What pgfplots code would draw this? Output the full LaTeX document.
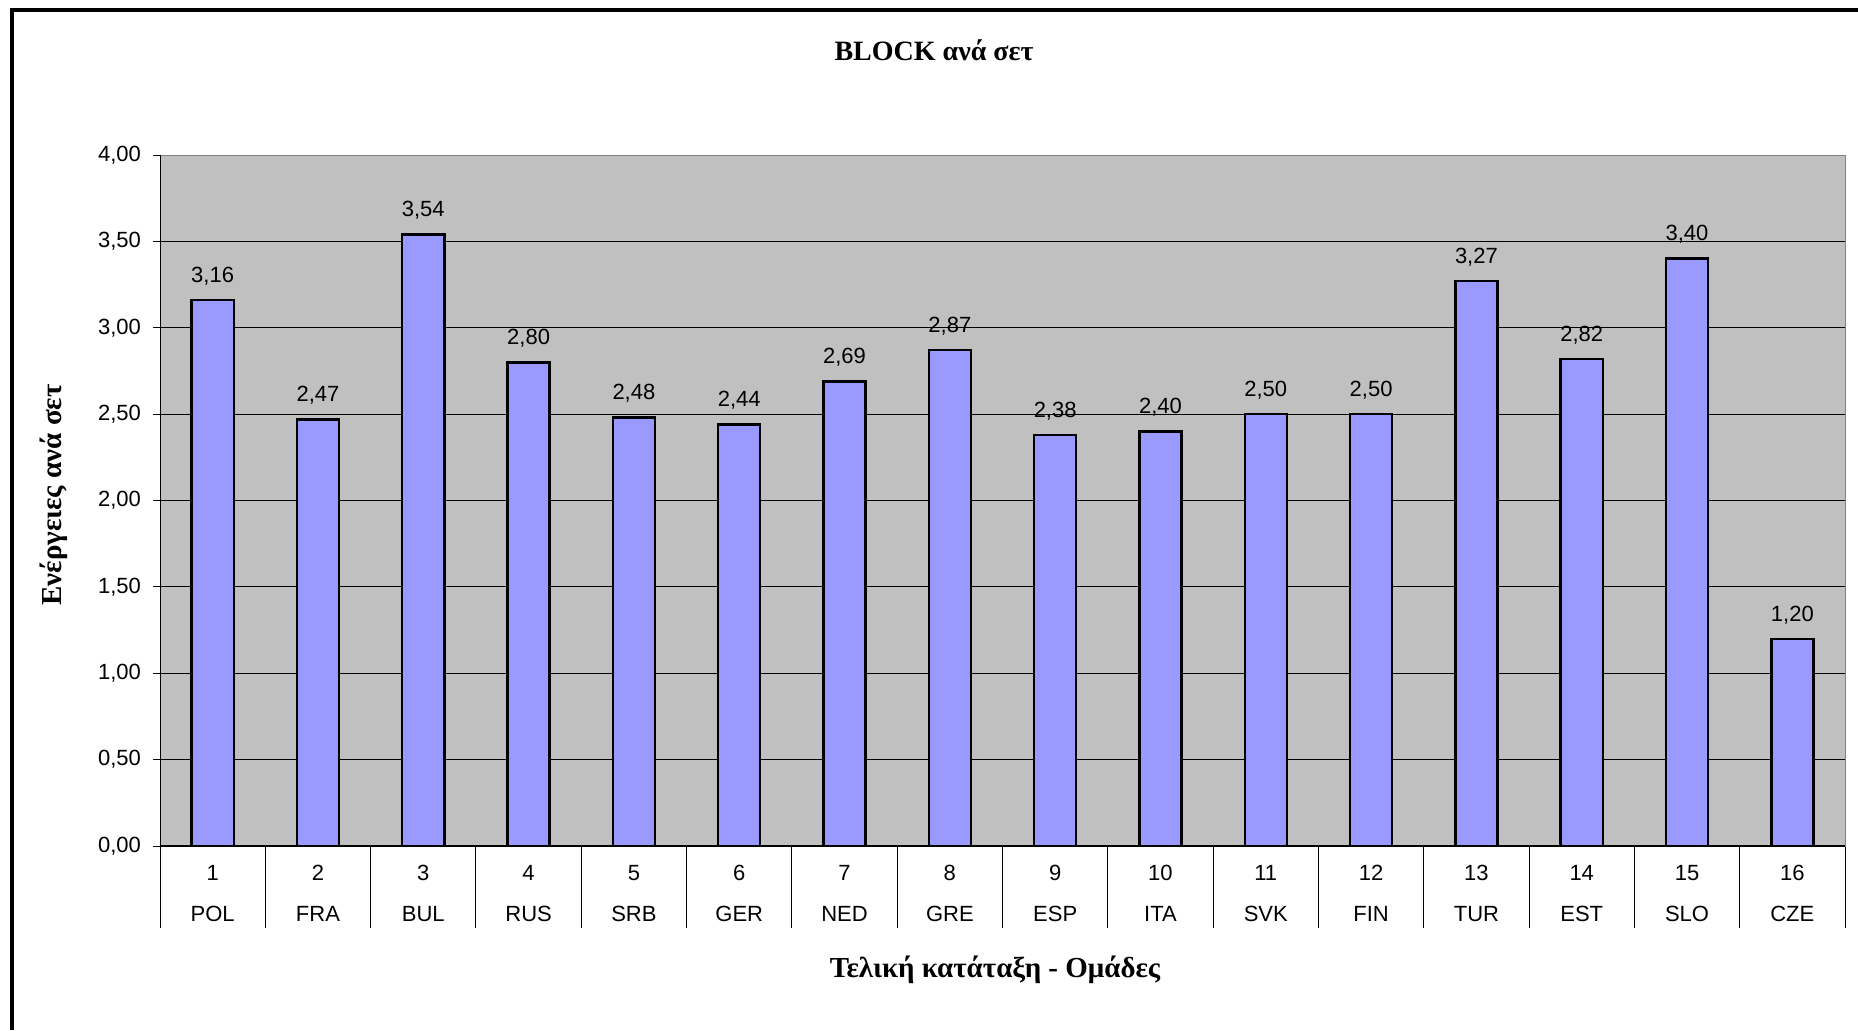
\documentclass[border=0pt]{standalone}
\usepackage{pgfplots}
\pgfplotsset{compat=1.18}
\usepackage{fontspec}
\setmainfont{Liberation Serif}
\newfontfamily\arial{Liberation Sans}
\definecolor{plotbg}{HTML}{C0C0C0}
\definecolor{barfill}{HTML}{9999FF}
\definecolor{axgray}{HTML}{808080}

\pgfplotstableread{
x  y
1  3.16
2  2.47
3  3.54
4  2.80
5  2.48
6  2.44
7  2.69
8  2.87
9  2.38
10 2.40
11 2.50
12 2.50
13 3.27
14 2.82
15 3.40
16 1.20
}\blockdata

\begin{document}
\begin{tikzpicture}
  \useasboundingbox (0,0) rectangle (929pt,-515pt);
  % outer frame (only left and top edges visible)
  \draw[line width=2pt] (6pt,-515pt) -- (6pt,-4.8pt) -- (929pt,-4.8pt);
  \begin{axis}[
    at={(80pt,-423pt)}, anchor=south west,
    width=842.5pt, height=345.5pt, scale only axis,
    xmin=0.5, xmax=16.5, ymin=0, ymax=4,
    ytick={0,0.5,...,4},
    axis background/.style={fill=plotbg},
    axis line style={draw=axgray},
    ymajorgrids, grid style={black, line width=0.4pt},
    tick align=outside,
    xtick pos=bottom, ytick pos=left,
    major tick length=3.5pt,
    xtick={1,...,16},
    xticklabels={{1\\POL},{2\\FRA},{3\\BUL},{4\\RUS},{5\\SRB},{6\\GER},{7\\NED},{8\\GRE},
                 {9\\ESP},{10\\ITA},{11\\SVK},{12\\FIN},{13\\TUR},{14\\EST},{15\\SLO},{16\\CZE}},
    major x tick style={draw=none},
    minor xtick={0.5,1.5,...,16.5},
    minor tick length=41pt,
    minor x tick style={black, line width=0.5pt},
    y tick style={black, line width=0.5pt},
    xticklabel style={font=\arial\fontsize{11}{20.7}\selectfont, align=center, anchor=north, yshift=-2.5pt},
    yticklabel style={font=\arial\fontsize{11}{12}\selectfont, xshift=-2.5pt},
    ybar, bar width=0.4,
    nodes near coords,
    every node near coord/.append style={font=\arial\fontsize{11}{12}\selectfont, yshift=3.5pt},
    /pgf/number format/fixed,
    /pgf/number format/fixed zerofill,
    /pgf/number format/precision=2,
    /pgf/number format/use comma,
    /pgf/number format/assume math mode=true,
  ]
    \addplot[fill=barfill, draw=black, line width=1.2pt] table[x=x, y=y] {\blockdata};
    \draw[black, line width=0.6pt] (rel axis cs:0,1) -- (rel axis cs:0,0) -- (rel axis cs:1,0);
  \end{axis}
  \node[font=\bfseries\fontsize{14}{16}\selectfont] at (467pt,-25pt) {BLOCK ανά σετ};
  \node[font=\bfseries\fontsize{14.5}{16}\selectfont, rotate=90] at (27pt,-247.5pt) {Ενέργειες ανά σετ};
  \node[font=\bfseries\fontsize{14.5}{16}\selectfont] at (497.5pt,-485pt) {Τελική κατάταξη - Ομάδες};
\end{tikzpicture}
\end{document}
